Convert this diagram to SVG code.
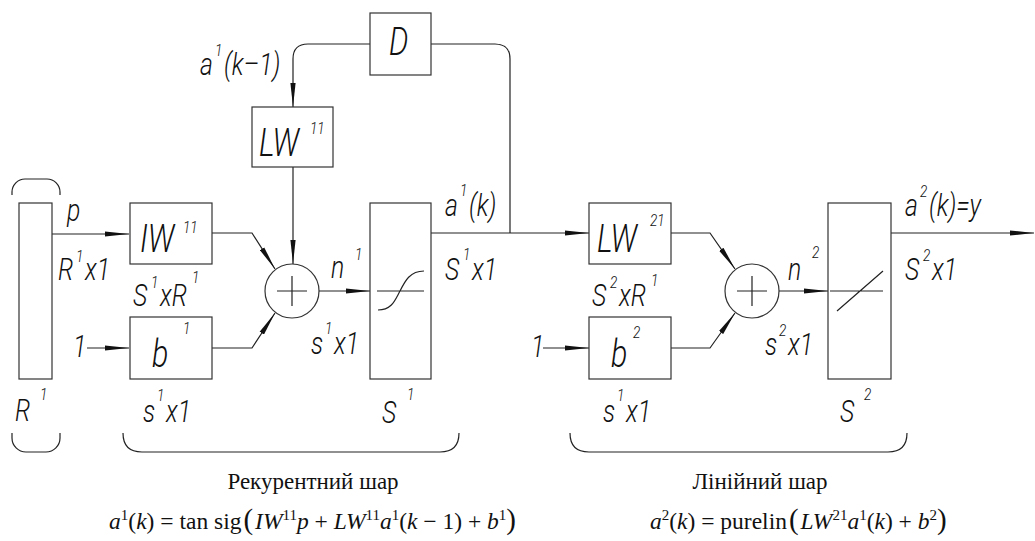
<svg xmlns="http://www.w3.org/2000/svg" width="1035" height="541" viewBox="0 0 1035 541">
<defs>
<marker id="arr" viewBox="0 0 24 6" refX="24" refY="3" markerWidth="24" markerHeight="6" markerUnits="userSpaceOnUse" orient="auto">
<path d="M0,0.4 L24,3 L0,5.6 Z" fill="#111"/>
</marker>
<style>
.bx{fill:#fff;stroke:#333;stroke-width:1.2}
.ln{fill:none;stroke:#222;stroke-width:1.2}
.ar{fill:none;stroke:#222;stroke-width:1.2;marker-end:url(#arr)}
.lb{font-family:Roboto,"Liberation Sans",Arial,sans-serif;font-style:italic;font-weight:300;font-size:31px;fill:#111}
.big{font-size:38px}
.sp{font-size:17px}
.cap{font-family:"Liberation Serif","Times New Roman",serif;font-size:23px;fill:#111}
.fm{font-family:"Liberation Serif","Times New Roman",serif;font-size:23.5px;fill:#111}
.i{font-style:italic}
.s{font-size:15px}
.bp{font-size:29px}
</style>
</defs>
<rect width="1035" height="541" fill="#fff"/>

<g id="connectors">
<path class="ar" d="M52,234 H129"/>
<path class="ar" d="M87,348 H129"/>
<path class="ar" d="M212,233 H252 L275,269"/>
<path class="ar" d="M212,348 H252 L275,313"/>
<path class="ar" d="M293,167 V264"/>
<path class="ar" d="M319,291 H370"/>
<path class="ar" d="M431,233 H589"/>
<path class="ln" d="M510,233 V59 Q510,44 495,44 H431"/>
<path class="ar" d="M370,44 H308 Q293,44 293,59 V107"/>
<path class="ar" d="M543,348 H589"/>
<path class="ar" d="M671,233 H710 L735,269"/>
<path class="ar" d="M671,348 H710 L735,313"/>
<path class="ar" d="M779,291 H828"/>
<path class="ar" d="M891,233 H1034"/>
</g>

<g id="input">
<rect class="bx" x="19" y="203" width="33" height="176"/>
<path class="ln" d="M12,195 V192 A13,13 0 0 1 25,179 H47 A13,13 0 0 1 60,192 V195"/>
<path class="ln" d="M12,433 V438 A14,14 0 0 0 26,452 H46 A14,14 0 0 0 60,438 V433"/>
<text class="lb" transform="scale(0.8,1)"><tspan x="18.75" y="421">R</tspan><tspan class="sp" x="50" y="400">1</tspan></text>
<text class="lb" transform="scale(0.8,1)" x="83.75" y="221">p</text>
<text class="lb" transform="scale(0.8,1)"><tspan x="72.5" y="280">R</tspan><tspan class="sp" x="95" y="262">1</tspan><tspan x="106.25" y="280">x1</tspan></text>
<text class="lb" transform="scale(0.8,1)" x="91.25" y="357">1</text>
</g>

<g id="IW11">
<rect class="bx" x="130" y="203" width="82" height="61"/>
<text class="lb" transform="scale(0.8,1)"><tspan class="big" x="175" y="252">IW</tspan><tspan class="sp" x="228.75" y="233">11</tspan></text>
<text class="lb" transform="scale(0.8,1)"><tspan x="166.25" y="306">S</tspan><tspan class="sp" x="188.75" y="288">1</tspan><tspan x="200" y="306">xR</tspan><tspan class="sp" x="240" y="283">1</tspan></text>
</g>

<g id="b1">
<rect class="bx" x="130" y="317" width="82" height="62"/>
<text class="lb" transform="scale(0.8,1)"><tspan class="big" x="190" y="367">b</tspan><tspan class="sp" x="228.75" y="334">1</tspan></text>
<text class="lb" transform="scale(0.8,1)"><tspan x="178.75" y="422">s</tspan><tspan class="sp" x="196.25" y="401">1</tspan><tspan x="207.5" y="422">x1</tspan></text>
</g>

<g id="LW11">
<rect class="bx" x="252" y="107" width="81" height="60"/>
<text class="lb" transform="scale(0.8,1)"><tspan class="big" x="323.75" y="156">LW</tspan><tspan class="sp" x="387.5" y="134">11</tspan></text>
<text class="lb" transform="scale(0.8,1)"><tspan x="250" y="75">a</tspan><tspan class="sp" x="268.75" y="56">1</tspan><tspan x="280" y="75">(k–1)</tspan></text>
</g>

<g id="D">
<rect class="bx" x="370" y="13" width="61" height="62"/>
<text class="lb big" transform="scale(0.8,1)" x="486.25" y="55">D</text>
</g>

<g id="sum1">
<circle class="bx" cx="292" cy="291" r="27"/>
<path class="ln" d="M277,291 H307 M292,276 V306"/>
<text class="lb" transform="scale(0.8,1)"><tspan x="413.75" y="278">n</tspan><tspan class="sp" x="443.75" y="260">1</tspan></text>
<text class="lb" transform="scale(0.8,1)"><tspan x="388.75" y="354">s</tspan><tspan class="sp" x="406.25" y="334">1</tspan><tspan x="417.5" y="354">x1</tspan></text>
</g>

<g id="S1">
<rect class="bx" x="370" y="203" width="61" height="176"/>
<path class="ln" d="M377,291 H424 M378,310 C392,310 395,300 400,291 C405,281 410,271 424,271"/>
<text class="lb" transform="scale(0.8,1)"><tspan x="477.5" y="423">S</tspan><tspan class="sp" x="508.75" y="400">1</tspan></text>
<text class="lb" transform="scale(0.8,1)"><tspan x="556.25" y="216">a</tspan><tspan class="sp" x="575" y="196">1</tspan><tspan x="586.25" y="216">(k)</tspan></text>
<text class="lb" transform="scale(0.8,1)"><tspan x="556.25" y="280">S</tspan><tspan class="sp" x="578.75" y="260">1</tspan><tspan x="590" y="280">x1</tspan></text>
</g>

<g id="LW21">
<rect class="bx" x="589" y="203" width="82" height="61"/>
<text class="lb" transform="scale(0.8,1)"><tspan class="big" x="746.25" y="252">LW</tspan><tspan class="sp" x="812.5" y="226">21</tspan></text>
<text class="lb" transform="scale(0.8,1)"><tspan x="740" y="306">S</tspan><tspan class="sp" x="762.5" y="288">2</tspan><tspan x="773.75" y="306">xR</tspan><tspan class="sp" x="813.75" y="286">1</tspan></text>
</g>

<g id="b2">
<rect class="bx" x="589" y="317" width="82" height="62"/>
<text class="lb" transform="scale(0.8,1)" x="663.75" y="357">1</text>
<text class="lb" transform="scale(0.8,1)"><tspan class="big" x="763.75" y="367">b</tspan><tspan class="sp" x="791.25" y="338">2</tspan></text>
<text class="lb" transform="scale(0.8,1)"><tspan x="753.75" y="422">s</tspan><tspan class="sp" x="771.25" y="401">1</tspan><tspan x="782.5" y="422">x1</tspan></text>
</g>

<g id="sum2">
<circle class="bx" cx="752" cy="291" r="27"/>
<path class="ln" d="M737,291 H767 M752,276 V306"/>
<text class="lb" transform="scale(0.8,1)"><tspan x="985" y="280">n</tspan><tspan class="sp" x="1015" y="258">2</tspan></text>
<text class="lb" transform="scale(0.8,1)"><tspan x="956.25" y="355">s</tspan><tspan class="sp" x="973.75" y="336">2</tspan><tspan x="985" y="355">x1</tspan></text>
</g>

<g id="S2">
<rect class="bx" x="828" y="203" width="63" height="176"/>
<path class="ln" d="M830,291 H883 M837,311 L883,271"/>
<text class="lb" transform="scale(0.8,1)"><tspan x="1050" y="422">S</tspan><tspan class="sp" x="1080" y="400">2</tspan></text>
<text class="lb" transform="scale(0.8,1)"><tspan x="1131.25" y="216">a</tspan><tspan class="sp" x="1150" y="197">2</tspan><tspan x="1161.25" y="216">(k)=y</tspan></text>
<text class="lb" transform="scale(0.8,1)"><tspan x="1131.25" y="280">S</tspan><tspan class="sp" x="1153.75" y="261">2</tspan><tspan x="1165" y="280">x1</tspan></text>
</g>

<g id="layer1">
<path class="ln" d="M123,433 Q123,452 142,452 H440 Q459,452 459,433"/>
<text class="cap" x="313" y="489" text-anchor="middle">Рекурентний шар</text>
<text class="fm" x="516" y="529" text-anchor="end"><tspan class="i">a</tspan><tspan class="s" dy="-9">1</tspan><tspan dy="9">(</tspan><tspan class="i">k</tspan><tspan>) = tan sig</tspan><tspan class="bp" dx="2">(</tspan><tspan class="i" dx="2">IW</tspan><tspan class="s" dy="-9">11</tspan><tspan class="i" dy="9">p</tspan><tspan> + </tspan><tspan class="i">LW</tspan><tspan class="s" dy="-9">11</tspan><tspan class="i" dy="9">a</tspan><tspan class="s" dy="-9">1</tspan><tspan dy="9">(</tspan><tspan class="i">k</tspan><tspan> − 1) + </tspan><tspan class="i">b</tspan><tspan class="s" dy="-9">1</tspan><tspan class="bp" dy="9">)</tspan></text>
</g>

<g id="layer2">
<path class="ln" d="M570,433 Q570,452 589,452 H888 Q907,452 907,433"/>
<text class="cap" x="760" y="489" text-anchor="middle">Лінійний шар</text>
<text class="fm" x="650" y="529"><tspan class="i">a</tspan><tspan class="s" dy="-9">2</tspan><tspan dy="9">(</tspan><tspan class="i">k</tspan><tspan>) = purelin</tspan><tspan class="bp" dx="2">(</tspan><tspan class="i" dx="2">LW</tspan><tspan class="s" dy="-9">21</tspan><tspan class="i" dy="9">a</tspan><tspan class="s" dy="-9">1</tspan><tspan dy="9">(</tspan><tspan class="i">k</tspan><tspan>) + </tspan><tspan class="i">b</tspan><tspan class="s" dy="-9">2</tspan><tspan class="bp" dy="9">)</tspan></text>
</g>
</svg>
